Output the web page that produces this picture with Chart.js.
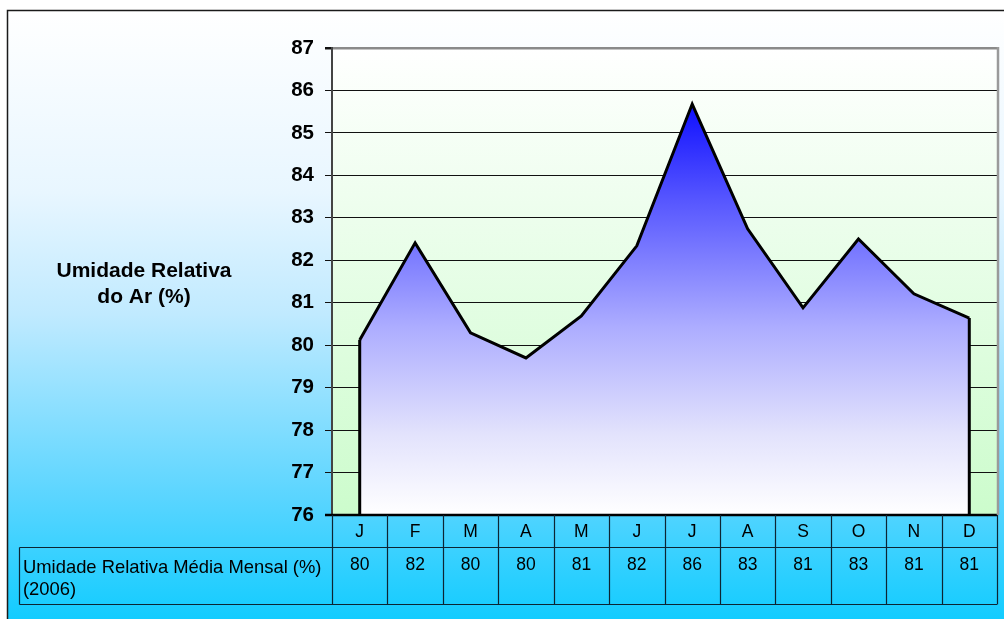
<!DOCTYPE html>
<html><head><meta charset="utf-8">
<script src="https://cdn.jsdelivr.net/npm/chart.js@4.4.0/dist/chart.umd.min.js"></script>
<style>html,body{margin:0;padding:0;background:#fff;overflow:hidden}#wrap{width:1004px;height:619px}</style>
</head><body><div id="wrap"><canvas id="c" width="1004" height="619"></canvas></div>
<script>
const months = ['J','F','M','A','M','J','J','A','S','O','N','D'];
const humidity = [80.12, 82.41, 80.29, 79.70, 80.69, 82.34, 85.68, 82.74, 80.88, 82.50, 81.21, 80.64];
const tableValues = ['80','82','80','80','81','82','86','83','81','83','81','81'];
const yMin = 76, yMax = 87, yStep = 1;
const axisTitle = ['Umidade Relativa', 'do Ar (%)'];
const seriesName = ['Umidade Relativa Média Mensal (%)', '(2006)'];

const FONT = '"Liberation Sans", Arial, sans-serif';

function areaGradient(context) {
  const chart = context.chart;
  const ca = chart.chartArea;
  if (!ca) return 'rgba(120,120,255,1)';
  const ys = chart.scales.y;
  const top = ys.getPixelForValue(Math.max(...humidity));
  const g = chart.ctx.createLinearGradient(0, top, 0, ca.bottom);
  g.addColorStop(0, 'rgb(15,15,255)');
  g.addColorStop(0.23, 'rgb(85,85,255)');
  g.addColorStop(0.54, 'rgb(172,172,255)');
  g.addColorStop(0.8, 'rgb(226,226,252)');
  g.addColorStop(1, 'rgb(255,255,255)');
  return g;
}

const decor = {
  id: 'decor',
  beforeDraw(chart) {
    const ctx = chart.ctx, W = chart.width, H = chart.height, ca = chart.chartArea;
    ctx.save();
    ctx.fillStyle = '#ffffff';
    ctx.fillRect(0, 0, W, H);
    const bg = ctx.createLinearGradient(0, 10, 0, H);
    bg.addColorStop(0, '#ffffff');
    bg.addColorStop(0.3, '#e8f6ff');
    bg.addColorStop(0.5, '#c0eaff');
    bg.addColorStop(0.8, '#5ad5ff');
    bg.addColorStop(1, '#12ccff');
    ctx.fillStyle = bg;
    ctx.fillRect(7, 10, W, H);
    ctx.strokeStyle = '#1a1a1a';
    ctx.lineWidth = 1.5;
    ctx.beginPath();
    ctx.moveTo(W + 2, 10.5); ctx.lineTo(7.5, 10.5); ctx.lineTo(7.5, H + 2);
    ctx.stroke();
    const pg = ctx.createLinearGradient(0, ca.top, 0, ca.bottom);
    pg.addColorStop(0, '#ffffff');
    pg.addColorStop(1, '#ccfccc');
    ctx.fillStyle = pg;
    ctx.fillRect(ca.left, ca.top, ca.right - ca.left, ca.bottom - ca.top);
    ctx.restore();
  },
  afterDatasetsDraw(chart) {
    const ctx = chart.ctx, ca = chart.chartArea;
    const pts = chart.getDatasetMeta(0).data;
    const p0 = pts[0], pn = pts[pts.length - 1];
    ctx.save();
    ctx.strokeStyle = '#000';
    ctx.lineWidth = 3;
    ctx.lineCap = 'butt';
    ctx.beginPath();
    ctx.moveTo(p0.x, p0.y); ctx.lineTo(p0.x, ca.bottom);
    ctx.moveTo(pn.x, pn.y); ctx.lineTo(pn.x, ca.bottom);
    ctx.stroke();
    ctx.lineWidth = 2.5;
    ctx.beginPath();
    ctx.moveTo(ca.left - 7, ca.bottom); ctx.lineTo(ca.right, ca.bottom);
    ctx.stroke();
    ctx.strokeStyle = '#9a9a9a';
    ctx.lineWidth = 2.5;
    ctx.beginPath();
    ctx.moveTo(ca.right + 1, ca.top - 1); ctx.lineTo(ca.right + 1, ca.bottom);
    ctx.stroke();
    ctx.restore();
  },
  afterDraw(chart) {
    const ctx = chart.ctx, ca = chart.chartArea;
    const xs = chart.scales.x;
    const n = months.length;
    const w = (ca.right - ca.left) / n;
    const rowTop = ca.bottom, rowMid = ca.bottom + 32, rowBot = 604.5, labelLeft = 19.5;
    ctx.save();
    ctx.fillStyle = '#000';
    ctx.font = 'bold 21px ' + FONT;
    ctx.textAlign = 'center';
    ctx.textBaseline = 'alphabetic';
    ctx.fillText(axisTitle[0], 144, 277);
    ctx.fillText(axisTitle[1], 144, 303);
    ctx.strokeStyle = '#0d2533';
    ctx.lineWidth = 1.2;
    ctx.beginPath();
    for (let i = 0; i <= n; i++) {
      const x = Math.round(ca.left + i * w) + 0.5;
      ctx.moveTo(x, rowTop); ctx.lineTo(x, rowBot);
    }
    ctx.moveTo(labelLeft, rowMid + 0.5); ctx.lineTo(ca.right, rowMid + 0.5);
    ctx.moveTo(labelLeft, rowBot); ctx.lineTo(ca.right, rowBot);
    ctx.moveTo(labelLeft, rowMid + 0.5); ctx.lineTo(labelLeft, rowBot);
    ctx.stroke();
    ctx.font = '17.5px ' + FONT;
    ctx.textAlign = 'center';
    for (let i = 0; i < n; i++) {
      const cx = xs.getPixelForValue(i);
      ctx.fillText(months[i], cx, 537);
      ctx.fillText(tableValues[i], cx, 570);
    }
    ctx.font = '18.4px ' + FONT;
    ctx.textAlign = 'left';
    ctx.fillText(seriesName[0], 23, 573);
    ctx.fillText(seriesName[1], 23, 595);
    ctx.restore();
  }
};

new Chart(document.getElementById('c'), {
  type: 'line',
  data: {
    labels: months,
    datasets: [{
      data: humidity,
      borderColor: '#000',
      borderWidth: 3,
      borderJoinStyle: 'miter',
      pointRadius: 0,
      tension: 0,
      fill: 'start',
      backgroundColor: areaGradient
    }]
  },
  options: {
    responsive: false,
    devicePixelRatio: 1,
    animation: false,
    layout: { padding: { top: 48, right: 7, bottom: 104, left: 0 } },
    plugins: { legend: { display: false }, tooltip: { enabled: false } },
    scales: {
      x: { type: 'category', offset: true, display: false },
      y: {
        min: yMin, max: yMax,
        afterFit(s) { s.width = 332; },
        ticks: { stepSize: yStep, padding: 11, color: '#000', font: { family: FONT, size: 20.5, weight: 'bold' } },
        grid: {
          color: (c) => (c.tick && c.tick.value === yMax) ? '#8a8a8a' : '#111',
          lineWidth: (c) => (c.tick && c.tick.value === yMax) ? 2.5 : 1,
          tickLength: 7,
          tickColor: '#111'
        },
        border: { color: '#444', width: 2 }
      }
    }
  },
  plugins: [decor]
});
</script></body></html>
